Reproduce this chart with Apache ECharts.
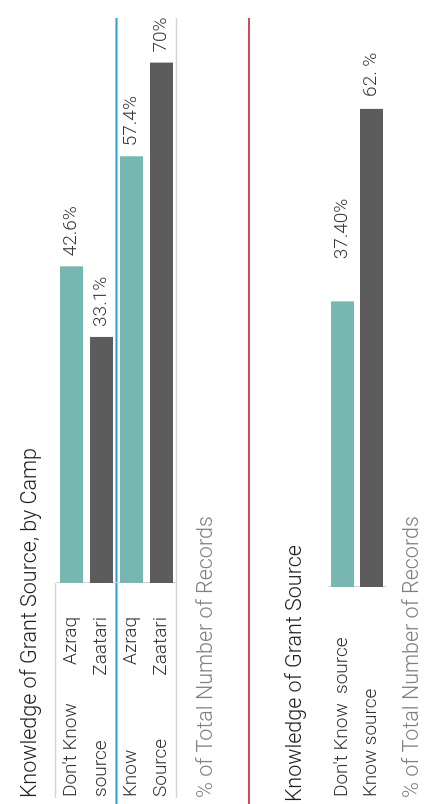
<!DOCTYPE html>
<html>
<head>
<meta charset="utf-8">
<script src="https://cdn.jsdelivr.net/npm/echarts@6/dist/echarts.min.js"></script>
<style>
  html, body { margin: 0; padding: 0; background: #fff; overflow: hidden; width: 429px; height: 804px; }
  /* the dashboard is laid out sideways: draw it landscape, then turn it a quarter counter-clockwise */
  #chart { position: absolute; left: 0; top: 0; width: 804px; height: 429px;
           transform-origin: 0 0; transform: translateY(804px) rotate(-90deg); }
</style>
</head>
<body>
<div id="chart"></div>
<script>
// ---- Knowledge of grant source, by camp ----
const campGroups = ["Don't Know source", "Know Source"];
const groupLines = [["Don't Know", "source"], ["Know", "Source"]];
const camps = ["Azraq", "Zaatari"];
const campShare = [[42.6, 33.1], [57.4, 70]];          // [group][camp], % of total
const campLabels = [["42.6%", "33.1%"], ["57.4%", "70%"]];

// ---- Knowledge of grant source, overall ----
const sources = ["Don't Know  source", "Know source"];
const sourceShare = [37.4, 62.6];
const sourceLabels = ["37.40%", "62. %"];

const titleCamp = "Knowledge of Grant Source, by Camp";
const titleOverall = "Knowledge of Grant Source";
const measureName = "% of Total Number of Records";

const TEAL = '#77b6b1';
const DARK = '#5c5c5c';
const FONT = 'Roboto, "Open Sans", sans-serif';
const campColors = [TEAL, DARK];

// one row per (group, camp) bar
const rows = [];
campGroups.forEach((g, gi) => {
  camps.forEach((c, ci) => {
    rows.push({ inner: c, outer: groupLines[gi][ci], value: campShare[gi][ci],
                label: campLabels[gi][ci], color: campColors[ci] });
  });
});

const G1 = { left: 221, right: 18, top: 56.5, height: 120 };
const G2 = { left: 217, right: 18, top: 328, height: 58 };

const labelText = { fontFamily: FONT, fontWeight: 300, fontSize: 19, color: '#333' };
const valueText = { fontFamily: FONT, fontWeight: 300, fontSize: 19, color: '#3a3a3a' };

const chart = echarts.init(document.getElementById('chart'), null, { renderer: 'canvas' });

const option = {
  animation: false,
  backgroundColor: '#fff',
  grid: [
    { left: G1.left, right: G1.right, top: G1.top, height: G1.height, outerBoundsMode: 'none', containLabel: false },
    { left: G2.left, right: G2.right, top: G2.top, height: G2.height, outerBoundsMode: 'none', containLabel: false }
  ],
  xAxis: [
    { type: 'value', gridIndex: 0, min: 0, max: 76, show: false },
    { type: 'value', gridIndex: 1, min: 0, max: 74.5, show: false }
  ],
  yAxis: [
    { type: 'category', gridIndex: 0, position: 'left', inverse: true, data: rows.map(r => r.inner),
      axisLine: { show: true, lineStyle: { color: '#d4d4d4', width: 1 } },
      axisTick: { show: false },
      axisLabel: Object.assign({ align: 'right', margin: 34 }, labelText) },
    { type: 'category', gridIndex: 0, position: 'left', inverse: true, data: rows.map(r => r.outer),
      axisLine: { show: false }, axisTick: { show: false },
      axisLabel: Object.assign({ align: 'left', margin: 214 }, labelText) },
    { type: 'category', gridIndex: 1, position: 'left', inverse: true, data: sources,
      axisLine: { show: true, lineStyle: { color: '#d4d4d4', width: 1 } },
      axisTick: { show: false },
      axisLabel: Object.assign({ align: 'left', margin: 210 }, labelText) }
  ],
  series: [
    { type: 'bar', xAxisIndex: 0, yAxisIndex: 0, barWidth: 23,
      data: rows.map(r => ({ value: r.value, itemStyle: { color: r.color } })),
      label: Object.assign({ show: true, position: 'right', distance: 10,
               formatter: p => rows[p.dataIndex].label }, valueText) },
    { type: 'bar', xAxisIndex: 1, yAxisIndex: 2, barWidth: 23,
      data: sourceShare.map((v, i) => ({
        value: v, itemStyle: { color: campColors[i] },
        // the first label sits further out from its bar
        label: { distance: i === 0 ? 42 : 12 } })),
      label: Object.assign({ show: true, position: 'right',
               formatter: p => sourceLabels[p.dataIndex] }, valueText) }
  ]
};
chart.setOption(option);

// pane borders, group divider and dashboard divider
const c1 = chart.convertToPixel({ yAxisIndex: 0 }, 1);
const c2 = chart.convertToPixel({ yAxisIndex: 0 }, 2);
const groupBoundary = (c1 + c2) / 2;
const paneTop = G1.top;
const paneBottom = G1.top + G1.height;
const topEnd = 804 - G1.right;

const txt = (text, x, y, size, color) => ({
  type: 'text', x: x, y: y, silent: true,
  style: { text: text, fontFamily: FONT, fontWeight: 300, fontSize: size, fill: color,
           align: 'left', verticalAlign: 'middle' }
});
const line = (x1, y1, x2, y2, color, w) => ({
  type: 'line', silent: true,
  shape: { x1: x1, y1: y1, x2: x2, y2: y2 },
  style: { stroke: color, lineWidth: w }
});

chart.setOption({
  graphic: [
    line(6, paneBottom, topEnd, paneBottom, '#d4d4d4', 1.5),
    line(6, paneTop - 1, G1.left, paneTop - 1, '#d4d4d4', 1.5),
    line(0, groupBoundary, topEnd, groupBoundary, '#2a9ed8', 2),
    line(0, 249, topEnd, 249, '#d6485d', 2),
    txt(titleCamp, 6, 30.5, 21.5, '#1e1e1e'),
    txt(measureName, 6, 207, 21.5, '#808080'),
    txt(titleOverall, 2, 296, 21.5, '#1e1e1e'),
    txt(measureName, 6, 413, 21.5, '#808080')
  ]
});
</script>
</body>
</html>
